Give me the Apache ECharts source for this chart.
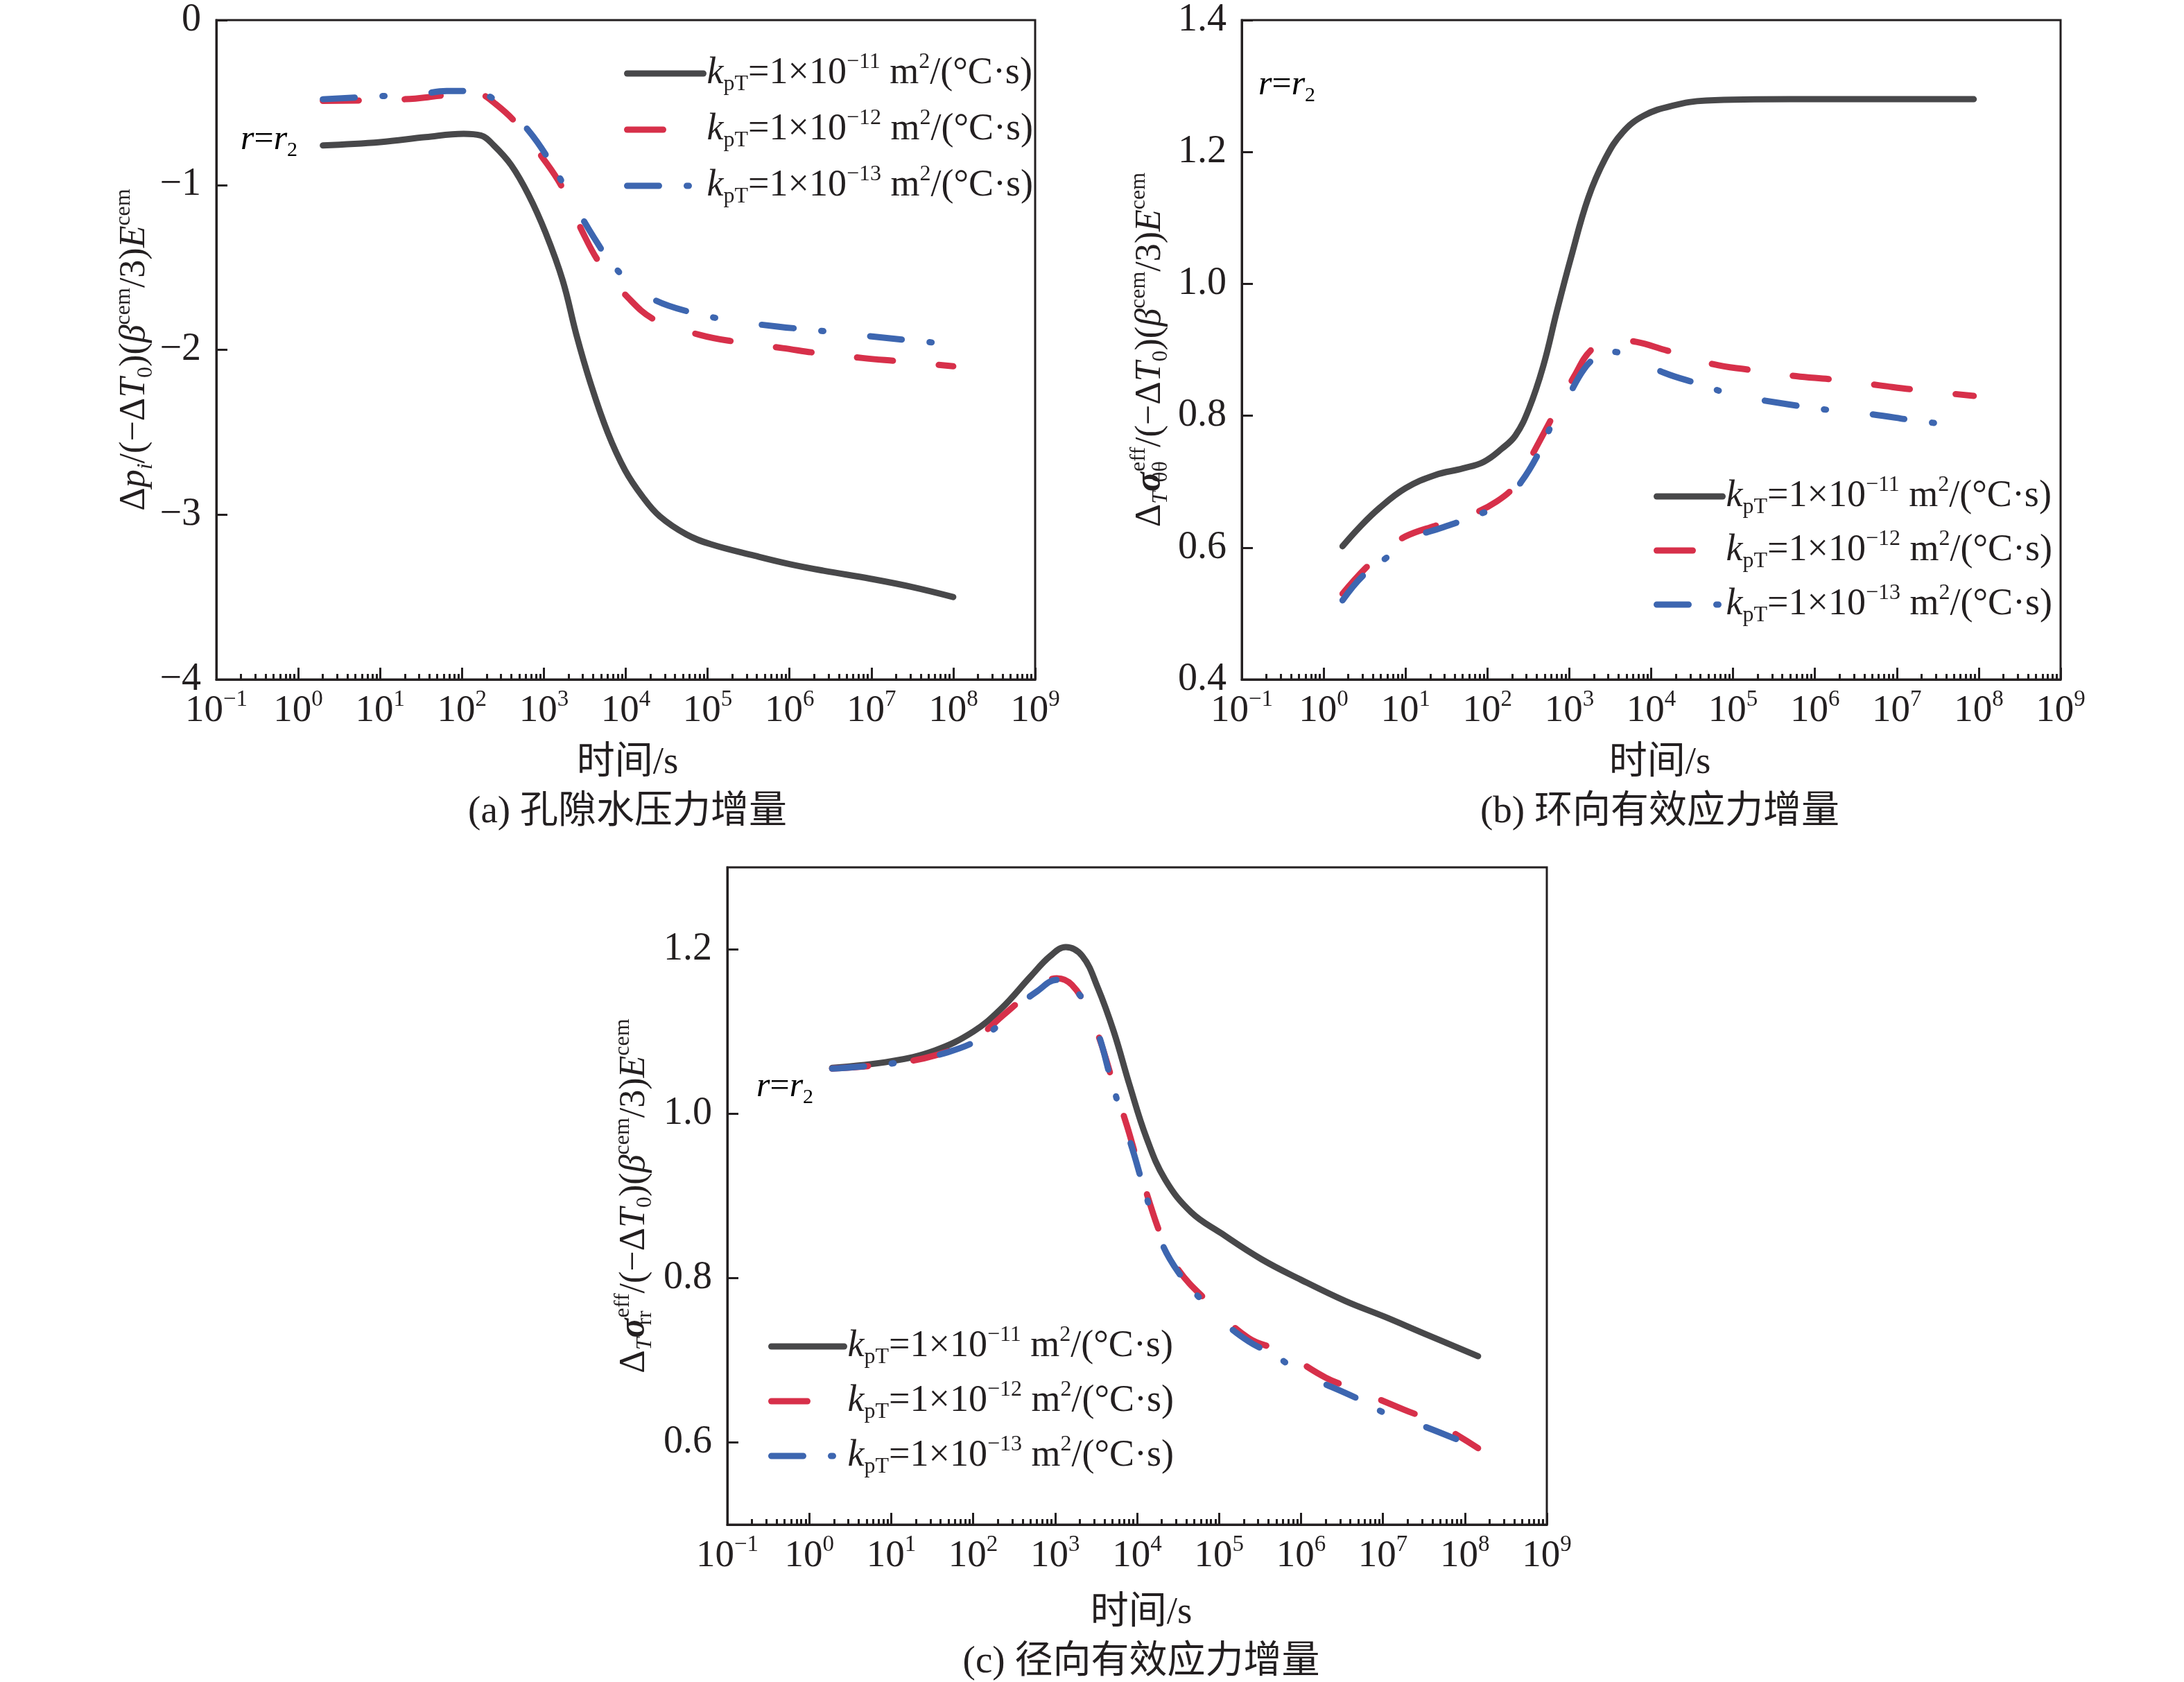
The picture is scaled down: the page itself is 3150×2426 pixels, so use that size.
<!DOCTYPE html>
<html>
<head>
<meta charset="utf-8">
<script src="https://cdn.jsdelivr.net/npm/echarts@6/dist/echarts.min.js"></script>
<style>
html, body { margin: 0; padding: 0; background: #fff; }
#main { width: 3150px; height: 2426px; }
</style>
</head>
<body>
<div id="main"></div>
<script>
// ---- values (time in s) ----
var seriesNames = ['k11', 'k12', 'k13'];
var legendExp = { k11: '−11', k12: '−12', k13: '−13' };

// (a) pore pressure increment
var timeA11 = [2, 10, 36, 105, 170, 245, 400, 650, 1050, 1700, 2500, 3700, 6000, 9800, 16000, 26000, 55000, 110000, 380000, 1e6, 2.6e6, 1e7, 3.2e7, 1e8];
var valA11 = [-0.76, -0.74, -0.71, -0.69, -0.70, -0.76, -0.88, -1.06, -1.29, -1.58, -1.91, -2.20, -2.50, -2.73, -2.89, -3.01, -3.12, -3.18, -3.25, -3.30, -3.34, -3.39, -3.44, -3.50];
var timeA12 = [2, 20, 52, 115, 170, 245, 450, 950, 1700, 3000, 4900, 10500, 23000, 81000, 210000, 830000, 2.2e6, 7.8e6, 2.2e7, 1e8];
var valA12 = [-0.49, -0.48, -0.46, -0.44, -0.45, -0.50, -0.62, -0.83, -1.02, -1.29, -1.48, -1.68, -1.82, -1.91, -1.95, -1.99, -2.02, -2.05, -2.07, -2.10];
var timeA13 = [2, 11.5, 30, 65, 115, 170, 330, 650, 1300, 2500, 4100, 6600, 11700, 23000, 60000, 180000, 740000, 1.95e6, 6.9e6, 2.6e7, 6.9e7];
var valA13 = [-0.48, -0.46, -0.45, -0.43, -0.43, -0.44, -0.53, -0.67, -0.89, -1.14, -1.32, -1.47, -1.60, -1.70, -1.77, -1.82, -1.86, -1.88, -1.91, -1.94, -1.96];

// (b) hoop effective stress increment
var timeB11 = [1.7, 2.7, 4.8, 10, 23, 50, 90, 150, 220, 320, 480, 710, 1050, 1700, 2750, 4500, 8100, 18000, 47000, 490000, 8.7e7];
var valB11 = [0.602, 0.63, 0.66, 0.69, 0.71, 0.72, 0.73, 0.75, 0.77, 0.81, 0.875, 0.96, 1.04, 1.13, 1.19, 1.23, 1.255, 1.27, 1.278, 1.28, 1.28];
var timeB12 = [1.7, 3.2, 5.9, 10, 23, 60, 130, 220, 350, 575, 1150, 1860, 3300, 6600, 14500, 58000, 150000, 590000, 1.6e6, 6.2e6, 1.5e7, 8.7e7];
var valB12 = [0.53, 0.568, 0.597, 0.617, 0.633, 0.649, 0.67, 0.695, 0.74, 0.79, 0.86, 0.90, 0.915, 0.912, 0.90, 0.878, 0.87, 0.86, 0.855, 0.846, 0.84, 0.83];
var timeB13 = [1.7, 3, 5.9, 12.6, 27.5, 60, 150, 260, 430, 630, 930, 1500, 2200, 3300, 5500, 14500, 39000, 100000, 490000, 1.2e6, 5.1e6, 1.6e7, 4e7];
var valB13 = [0.52, 0.557, 0.585, 0.615, 0.63, 0.645, 0.667, 0.70, 0.745, 0.79, 0.825, 0.87, 0.89, 0.897, 0.89, 0.865, 0.848, 0.832, 0.817, 0.81, 0.802, 0.793, 0.787];

// (c) radial effective stress increment
var timeC11 = [1.9, 10, 34, 100, 220, 500, 870, 1350, 2150, 3300, 5200, 8100, 13000, 22000, 46000, 105000, 330000, 1e6, 3.5e6, 1.05e7, 3.1e7, 1.45e8];
var valC11 = [1.056, 1.064, 1.077, 1.10, 1.128, 1.167, 1.192, 1.203, 1.192, 1.154, 1.10, 1.035, 0.971, 0.92, 0.88, 0.855, 0.823, 0.798, 0.772, 0.753, 0.733, 0.705];
var timeC12 = [1.9, 10, 34, 100, 245, 600, 1050, 1600, 2550, 3600, 5200, 7600, 9800, 14000, 20000, 32000, 72000, 230000, 580000, 2e6, 5e6, 1.8e7, 4.4e7, 1.45e8];
var valC12 = [1.055, 1.061, 1.071, 1.09, 1.122, 1.154, 1.165, 1.157, 1.125, 1.087, 1.035, 0.984, 0.946, 0.894, 0.85, 0.81, 0.772, 0.727, 0.711, 0.679, 0.663, 0.640, 0.624, 0.593];
var timeC13 = [1.9, 11.5, 49, 145, 295, 600, 1050, 1600, 2350, 3400, 4800, 6900, 9100, 12900, 20000, 32000, 59000, 112000, 230000, 480000, 1e6, 5e6, 1.1e7, 3.1e7, 1.45e8];
var valC13 = [1.055, 1.062, 1.075, 1.096, 1.125, 1.149, 1.163, 1.154, 1.134, 1.096, 1.042, 0.99, 0.952, 0.90, 0.843, 0.807, 0.775, 0.747, 0.723, 0.706, 0.685, 0.653, 0.635, 0.62, 0.593];

var yTicksA = [-4, -3, -2, -1, 0];
var yTicksB = [0.4, 0.6, 0.8, 1.0, 1.2, 1.4];
var yTicksC = [0.6, 0.8, 1.0, 1.2];

// ---- styling ----
var INK = '#231f20';
var SERIF = '"Liberation Serif", "Times New Roman", serif';
var CJK = '"Liberation Serif", "Noto Sans CJK SC", serif';
var colors = { k11: '#48484a', k12: '#d7304a', k13: '#3d66b0' };
var dashes = { k11: 'solid', k12: [52, 66], k13: [46, 40, 3, 68] };

var grids = [
    { left: 312, top: 29, width: 1181, height: 951 },
    { left: 1791, top: 29, width: 1181, height: 951 },
    { left: 1049, top: 1251, width: 1182, height: 948 }
];

var minorTicks = [];
for (var n = -1; n <= 8; n++) {
    for (var k = 2; k <= 9; k++) minorTicks.push(k * Math.pow(10, n));
}

function pts(ts, vs) {
    return ts.map(function (t, i) { return [t, vs[i]]; });
}

var richBase = {
    n: { fontFamily: SERIF, fontSize: 52, lineHeight: 64, color: INK },
    i: { fontFamily: SERIF, fontSize: 52, lineHeight: 64, fontStyle: 'italic', color: INK },
    bi: { fontFamily: SERIF, fontSize: 52, lineHeight: 64, fontStyle: 'italic', fontWeight: 'bold', color: INK },
    sup: { fontFamily: SERIF, fontSize: 32, lineHeight: 32, verticalAlign: 'top', color: INK },
    sub: { fontFamily: SERIF, fontSize: 32, lineHeight: 32, verticalAlign: 'bottom', color: INK },
    subw: { fontFamily: SERIF, fontSize: 32, lineHeight: 32, verticalAlign: 'bottom', width: 1, color: INK },
    subi: { fontFamily: SERIF, fontSize: 32, lineHeight: 32, verticalAlign: 'bottom', fontStyle: 'italic', color: INK }
};

var tail = '{n|/(−Δ}{i|T}{sub|0}{n|)(}{i|β}{sup|cem}{n|/3)}{i|E}{sup|cem}';
var yNames = [
    '{n|Δ}{i|p}{subi|i}' + tail,
    '{n|Δ}{subi|T}{bi|σ}{subw|θθ}{sup|eff}' + tail,
    '{n|Δ}{subi|T}{bi|σ}{subw|rr}{sup|eff}' + tail
];
var yGaps = [82, 100, 102];

function xAxes(g) {
    return [{
        type: 'log', gridIndex: g, min: 0.1, max: 1e9, splitNumber: 10, position: 'bottom',
        axisLine: { onZero: false, lineStyle: { color: INK, width: 3 } },
        axisTick: { inside: true, length: 17, lineStyle: { color: INK, width: 3 } },
        splitLine: { show: false },
        axisLabel: {
            margin: 13,
            formatter: function (v) {
                var e = Math.round(Math.log10(v));
                return '{b|10}{s|' + (e < 0 ? '−' + (-e) : e) + '}';
            },
            rich: {
                b: { fontFamily: SERIF, fontSize: 55, lineHeight: 66, color: INK },
                s: { fontFamily: SERIF, fontSize: 33, lineHeight: 38, verticalAlign: 'top', color: INK }
            }
        }
    }, {
        type: 'log', gridIndex: g, min: 0.1, max: 1e9, position: 'bottom',
        axisLine: { show: false, onZero: false },
        axisLabel: { show: false },
        splitLine: { show: false },
        axisTick: { inside: true, length: 8, customValues: minorTicks, lineStyle: { color: INK, width: 3 } }
    }];
}

function yAxis(g, min, max, ticks, fmt) {
    return {
        type: 'value', gridIndex: g, min: min, max: max,
        name: yNames[g], nameLocation: 'middle', nameRotate: 90, nameGap: yGaps[g],
        nameTextStyle: { rich: richBase },
        axisLine: { show: true, lineStyle: { color: INK, width: 3 } },
        axisTick: { inside: true, length: 16, customValues: ticks, lineStyle: { color: INK, width: 3 } },
        splitLine: { show: false },
        axisLabel: {
            customValues: ticks, margin: 22, formatter: fmt,
            fontFamily: SERIF, fontSize: 56, color: INK
        }
    };
}

var xAxisList = [].concat(xAxes(0), xAxes(1), xAxes(2));
var yAxisList = [
    yAxis(0, -4, 0, yTicksA, function (v) { return v < 0 ? '−' + (-v) : '0'; }),
    yAxis(1, 0.4, 1.4, yTicksB, function (v) { return v.toFixed(1); }),
    yAxis(2, 0.5, 1.3, yTicksC, function (v) { return v.toFixed(1); })
];

var panelData = [
    [pts(timeA11, valA11), pts(timeA12, valA12), pts(timeA13, valA13)],
    [pts(timeB11, valB11), pts(timeB12, valB12), pts(timeB13, valB13)],
    [pts(timeC11, valC11), pts(timeC12, valC12), pts(timeC13, valC13)]
];

var series = [];
panelData.forEach(function (set, g) {
    set.forEach(function (d, s) {
        var nm = seriesNames[s];
        series.push({
            name: nm, type: 'line', xAxisIndex: g * 2, yAxisIndex: g,
            data: d, smooth: 0.4, symbol: 'none',
            lineStyle: { color: colors[nm], width: 9, type: dashes[nm], cap: 'round', join: 'round' },
            itemStyle: { color: colors[nm] },
            z: 2 + s
        });
    });
});

var legendRich = {
    k: { fontFamily: SERIF, fontSize: 54, lineHeight: 64, fontStyle: 'italic', color: INK },
    n: { fontFamily: SERIF, fontSize: 54, lineHeight: 64, color: INK },
    sub: { fontFamily: SERIF, fontSize: 32, lineHeight: 32, verticalAlign: 'bottom', color: INK },
    sup: { fontFamily: SERIF, fontSize: 32, lineHeight: 32, verticalAlign: 'top', color: INK }
};
function legendAt(left, top, gap, w) {
    return {
        data: seriesNames, orient: 'vertical', left: left, top: top,
        itemWidth: w, itemHeight: 30, itemGap: gap, selectedMode: false,
        lineStyle: { width: 9 },
        itemStyle: { opacity: 0, color: 'transparent', borderWidth: 0 },
        formatter: function (nm) {
            return '{k|k}{sub|pT}{n|=1×10}{sup|' + legendExp[nm] + '}{n| m}{sup|2}{n|/(°C·s)}';
        },
        textStyle: { rich: legendRich }
    };
}

function label(x, y, text, size) {
    return {
        type: 'text', x: x, y: y,
        style: { text: text, fontFamily: CJK, fontSize: size, fill: INK, align: 'center', verticalAlign: 'middle' }
    };
}
var rRich = {
    i: { fontFamily: SERIF, fontSize: 50, fontStyle: 'italic', lineHeight: 60, color: INK },
    n: { fontFamily: SERIF, fontSize: 50, lineHeight: 60, color: INK },
    sub: { fontFamily: SERIF, fontSize: 30, lineHeight: 30, verticalAlign: 'bottom', color: INK }
};
function rLabel(x, y) {
    return {
        type: 'text', x: x, y: y,
        style: { text: '{i|r}{n|=}{i|r}{sub|2}', rich: rRich, align: 'left', verticalAlign: 'middle' }
    };
}

var chart = echarts.init(document.getElementById('main'), null, { renderer: 'canvas' });
var option = {
    backgroundColor: '#fff',
    animation: false,
    grid: grids.map(function (g) {
        return {
            left: g.left, top: g.top, width: g.width, height: g.height,
            containLabel: false, outerBoundsMode: 'none',
            show: true, borderColor: INK, borderWidth: 3, backgroundColor: 'transparent'
        };
    }),
    xAxis: xAxisList,
    yAxis: yAxisList,
    legend: [legendAt(895, 69, 17, 110), legendAt(2380, 679, 14, 95), legendAt(1103, 1905, 15, 105)],
    series: series,
    graphic: [
        label(905, 1101, '时间/s', 55),
        label(2394, 1101, '时间/s', 55),
        label(1646, 2327, '时间/s', 55),
        label(905, 1172, '(a) 孔隙水压力增量', 55),
        label(2394, 1172, '(b) 环向有效应力增量', 55),
        label(1646, 2398, '(c) 径向有效应力增量', 55),
        rLabel(347, 202),
        rLabel(1815, 123),
        rLabel(1091, 1568)
    ]
};
chart.setOption(option);
window.addEventListener('resize', chart.resize);
</script>
</body>
</html>
